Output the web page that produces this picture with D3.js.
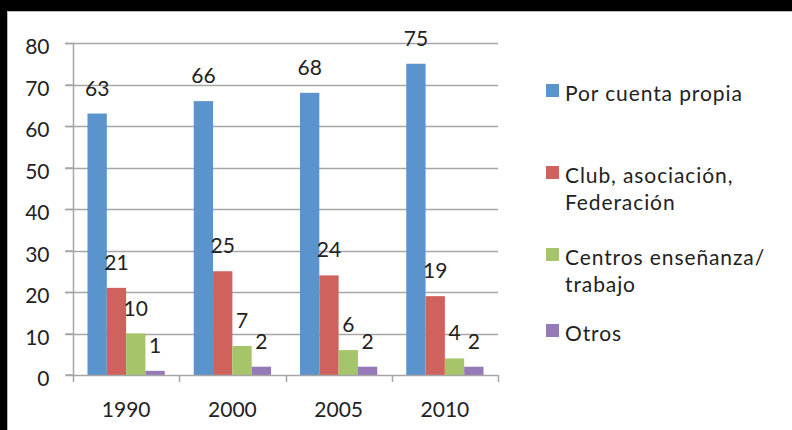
<!DOCTYPE html>
<html><head><meta charset="utf-8">
<script src="https://cdn.jsdelivr.net/npm/d3@7"></script>
<style>html,body{margin:0;padding:0;background:#000;}svg{display:block;}</style>
</head><body>
<script>
const years = ["1990", "2000", "2005", "2010"];
const seriesNames = ["Por cuenta propia", "Club, asociación, Federación", "Centros enseñanza/ trabajo", "Otros"];
const legendLines = [["Por cuenta propia"], ["Club, asociación,", "Federación"], ["Centros enseñanza/", "trabajo"], ["Otros"]];
const porCuentaPropia = [63, 66, 68, 75];
const club = [21, 25, 24, 19];
const centros = [10, 7, 6, 4];
const otros = [1, 2, 2, 2];
const yTicks = [0, 10, 20, 30, 40, 50, 60, 70, 80];
const colors = ["#5b93cc", "#cf625d", "#a6c46a", "#9579b8"];
const seriesValues = [porCuentaPropia, club, centros, otros];

const W = 792, H = 430;
const font = "Lato, 'Open Sans', sans-serif";
const fs = 21;
const svg = d3.select("body").append("svg").attr("width", W).attr("height", H);
svg.append("rect").attr("x", 0).attr("y", 0).attr("width", W).attr("height", H).attr("fill", "#000");
svg.append("rect").attr("x", 7.5).attr("y", 11.5).attr("width", W).attr("height", H).attr("fill", "#fff").attr("stroke", "#b8b8b8");

const pLeft = 73, pRight = 498, pTop = 43, pBottom = 375;
const x0 = d3.scaleBand().domain(years).range([pLeft, pRight]).padding(0);
const groupW = x0.bandwidth() * 4 / 5.5;
const x1 = d3.scaleBand().domain(d3.range(4)).range([0, groupW]).padding(0);
const y = d3.scaleLinear().domain([0, 80]).range([pBottom, pTop]);
const grey = "#a6a6a6";

// gridlines
svg.append("g").selectAll("line").data(yTicks.filter(d => d > 0)).join("line")
  .attr("x1", pLeft - 8).attr("x2", pRight).attr("y1", d => Math.round(y(d)) + 0.5).attr("y2", d => Math.round(y(d)) + 0.5)
  .attr("stroke", grey).attr("stroke-width", 1.5);

// y axis
const ya = svg.append("g").attr("transform", `translate(${pLeft + 0.5},0)`)
  .call(d3.axisLeft(y).tickValues(yTicks).tickSize(8).tickPadding(16));
ya.select(".domain").attr("stroke", grey).attr("stroke-width", 1.5).attr("d", `M-8,${y(0)}H0V${y(80)}`);
ya.selectAll(".tick line").attr("stroke", grey).attr("stroke-width", 1.5);
ya.selectAll(".tick text").attr("font-family", font).attr("font-size", fs).attr("fill", "#222").attr("dy", "0.5em");

// bars
const groups = svg.append("g").selectAll("g").data(years).join("g")
  .attr("transform", d => `translate(${x0(d) + (x0.bandwidth() - groupW) / 2},0)`);
groups.selectAll("rect").data((d, i) => seriesValues.map((s, k) => ({k, v: s[i]}))).join("rect")
  .attr("x", d => x1(d.k)).attr("width", x1.bandwidth())
  .attr("y", d => y(d.v)).attr("height", d => y(0) - y(d.v))
  .attr("fill", d => colors[d.k]);
groups.selectAll("text").data((d, i) => seriesValues.map((s, k) => ({k, v: s[i]}))).join("text")
  .attr("x", d => x1(d.k) + x1.bandwidth() / 2).attr("y", d => y(d.v) - 18)
  .attr("text-anchor", "middle").attr("font-family", font).attr("font-size", fs).attr("fill", "#222")
  .text(d => d.v);

// x axis
const xa = svg.append("g").attr("transform", `translate(0,${pBottom + 0.5})`)
  .call(d3.axisBottom(x0).tickSize(0).tickPadding(27));
xa.select(".domain").remove();
xa.selectAll(".tick text").attr("font-family", font).attr("font-size", fs).attr("fill", "#222");
svg.append("line").attr("x1", pLeft).attr("x2", pRight).attr("y1", pBottom + 0.5).attr("y2", pBottom + 0.5).attr("stroke", grey).attr("stroke-width", 1.5);
svg.append("g").selectAll("line").data(d3.range(5)).join("line")
  .attr("x1", d => Math.round(pLeft + d * x0.step()) + 0.5).attr("x2", d => Math.round(pLeft + d * x0.step()) + 0.5)
  .attr("y1", pBottom).attr("y2", pBottom + 7).attr("stroke", grey).attr("stroke-width", 1.5);

// legend
const legY = [93, 175, 257, 333];
const leg = svg.append("g").selectAll("g").data(seriesNames).join("g")
  .attr("transform", (d, i) => `translate(546,${legY[i]})`);
leg.append("rect").attr("x", 0).attr("y", -9).attr("width", 13).attr("height", 13).attr("fill", (d, i) => colors[i]);
leg.append("text").attr("font-family", font).attr("font-size", fs).attr("fill", "#222").attr("letter-spacing", 0.9)
  .selectAll("tspan").data((d, i) => legendLines[i]).join("tspan")
  .attr("x", 19).attr("dy", (d, j) => j === 0 ? "0.36em" : "27px").text(d => d);
</script>
</body></html>
